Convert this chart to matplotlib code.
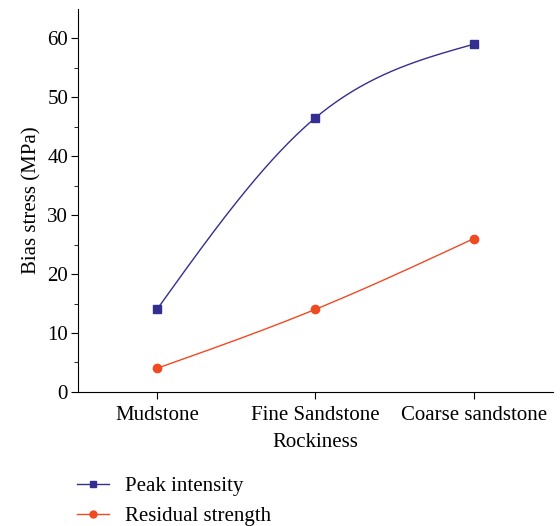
import numpy as np
import matplotlib.pyplot as plt

rocks = ['Mudstone', 'Fine Sandstone', 'Coarse sandstone']
peak = [14, 46.5, 59]
residual = [4, 14, 26]

plt.rcParams['font.family'] = ['Liberation Serif', 'DejaVu Serif']
plt.rcParams['font.size'] = 15


def smooth(y, n=100):
	# natural cubic spline through equally spaced points
	y = np.asarray(y, float)
	k = len(y)
	A = np.zeros((k, k))
	b = np.zeros(k)
	A[0, 0] = 1
	A[-1, -1] = 1
	for i in range(1, k - 1):
		A[i, i - 1:i + 2] = [1, 4, 1]
		b[i] = 6 * (y[i - 1] - 2 * y[i] + y[i + 1])
	M = np.linalg.solve(A, b)
	xs, ys = [], []
	for i in range(k - 1):
		t = np.linspace(0, 1, n)
		s = (M[i] * (1 - t) ** 3 / 6 + M[i + 1] * t ** 3 / 6
			 + (y[i] - M[i] / 6) * (1 - t) + (y[i + 1] - M[i + 1] / 6) * t)
		xs.extend(i + t)
		ys.extend(s)
	return np.array(xs), np.array(ys)


blue = '#332e8f'
red = '#f04a23'

fig = plt.figure(figsize=(5.6, 5.26), dpi=100)
ax = fig.add_axes([0.139, 0.255, 0.848, 0.728])

x = np.arange(len(rocks))
sx, sy = smooth(peak)
ax.plot(sx, sy, color=blue, lw=1)
ax.plot(x, peak, 's', color=blue, ms=5.5)
sx, sy = smooth(residual)
ax.plot(sx, sy, color=red, lw=1)
ax.plot(x, residual, 'o', color=red, ms=6)

h1, = ax.plot([], [], '-s', color=blue, lw=1, ms=4.5)
h2, = ax.plot([], [], '-o', color=red, lw=1, ms=5)
fig.legend([h1, h2], ['Peak intensity', 'Residual strength'], loc='upper left',
		   bbox_to_anchor=(0.1225, 0.11), frameon=False, handlelength=1.55,
		   handletextpad=0.75, labelspacing=0.5, fontsize=15, borderaxespad=0)

ax.set_xlim(-0.5, 2.5)
ax.set_ylim(0, 65)
ax.set_xticks(x)
ax.set_xticklabels(rocks)
ax.set_yticks(range(0, 61, 10))
ax.set_yticks(range(5, 65, 10), minor=True)
ax.tick_params(axis='x', length=5, pad=5)
ax.tick_params(axis='y', length=5, pad=2)
ax.tick_params(axis='y', which='minor', length=3)
ax.spines['top'].set_visible(False)
ax.spines['right'].set_visible(False)
ax.set_xlabel('Rockiness', labelpad=6)
ax.set_ylabel('Bias stress (MPa)', labelpad=4)

plt.savefig('out.png', dpi=100)
